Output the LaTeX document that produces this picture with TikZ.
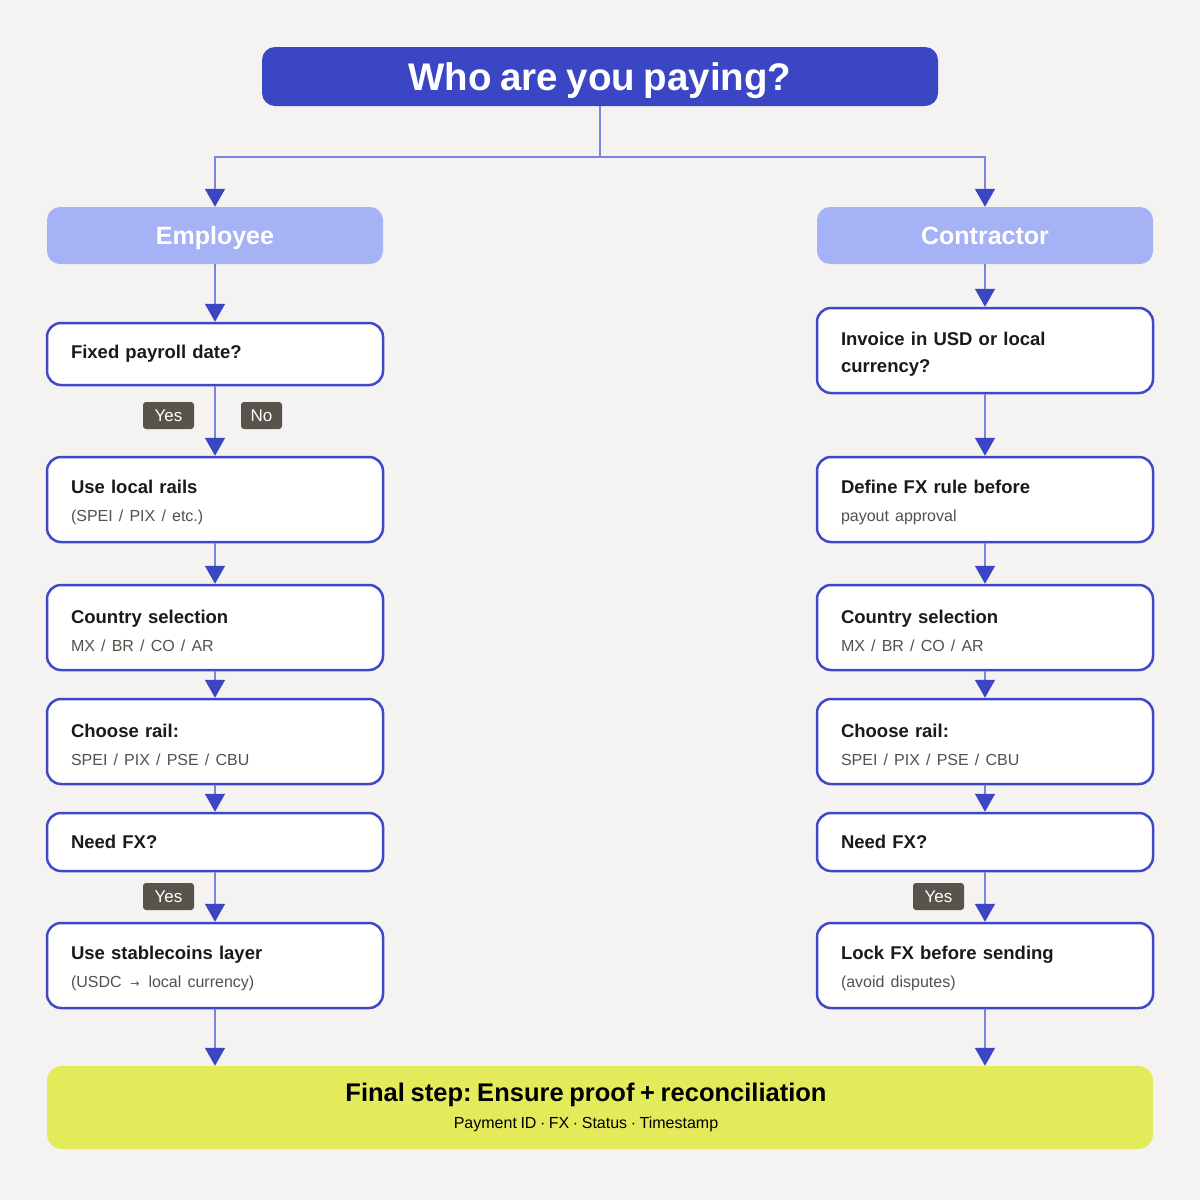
\documentclass[tikz,border=0pt]{standalone}
\usepackage{fontspec}
\setmainfont[WordSpace=0.8]{Liberation Sans}
\newfontfamily\arrowfont{DejaVu Sans}
\frenchspacing
\usetikzlibrary{arrows.meta}
\definecolor{bgc}{HTML}{F4F3F1}
\definecolor{titleblue}{HTML}{3B46C4}
\definecolor{lineblue}{HTML}{7D85DC}
\definecolor{borderblue}{HTML}{3E48C8}
\definecolor{lightblue}{HTML}{A6B2F6}
\definecolor{finalyellow}{HTML}{E3EB5A}
\definecolor{tagbrown}{HTML}{5A534C}
\definecolor{darktext}{HTML}{1A1A1A}
\definecolor{subgray}{HTML}{55504A}
\newcommand{\subtx}[1]{{\fontsize{16}{28}\selectfont\mdseries\color{subgray}#1}}
\newcommand{\topstrut}{\rule{0pt}{20pt}}
\tikzset{
  x=1pt, y=-1pt,
  stepbox/.style={draw=borderblue, line width=2.5pt, fill=white, rounded corners=14pt,
    text width=288pt, inner xsep=24pt, inner ysep=0pt, align=left, text=darktext,
    font=\fontsize{18.5}{28}\selectfont\bfseries},
  headbox/.style={fill=lightblue, rounded corners=13pt, minimum width=336pt, minimum height=57pt,
    inner sep=0pt, text=white, text height=18pt, text depth=0pt, font=\fontsize{25}{30}\selectfont\bfseries},
  tagbox/.style={fill=tagbrown, rounded corners=3pt, minimum width=51pt, minimum height=27pt,
    inner sep=0pt, text=white, text height=12pt, text depth=0pt, font=\fontsize{17}{20}\selectfont},
  conn/.style={draw=lineblue, line width=1.5pt},
  arr/.style={conn, -{Triangle[length=18pt,width=20pt,color=titleblue]}},
}
\begin{document}
\begin{tikzpicture}
\useasboundingbox[fill=bgc] (0,0) rectangle (1200,1200);

% title
\node[fill=titleblue, rounded corners=13pt, minimum width=676pt, minimum height=59pt, inner sep=0pt,
  text=white, text height=27.6pt, text depth=0pt, font=\fontsize{38.5}{44}\selectfont\bfseries] (title) at (600,76.5) {Who are you paying?};

% headers
\node[headbox] (emp) at (215,235.5) {Employee};
\node[headbox] (con) at (985,235.5) {Contractor};

% left column
\node[stepbox, minimum height=62pt] (e1) at (215,354) {Fixed payroll date?};
\node[stepbox, minimum height=85pt] (e2) at (215,499.5) {\topstrut Use local rails\\\subtx{(SPEI / PIX / etc.)}};
\node[stepbox, minimum height=85pt] (e3) at (215,627.5) {\topstrut Country selection\\\subtx{MX / BR / CO / AR}};
\node[stepbox, minimum height=85pt] (e4) at (215,741.5) {\topstrut Choose rail:\\\subtx{SPEI / PIX / PSE / CBU}};
\node[stepbox, minimum height=58pt] (e5) at (215,842) {Need FX?};
\node[stepbox, minimum height=85pt] (e6) at (215,965.5) {\topstrut Use stablecoins layer\\\subtx{(USDC \,{\arrowfont\fontsize{11}{11}\selectfont →}\, local currency)}};

% right column
\node[stepbox, minimum height=85pt] (c1) at (985,350.5) {\topstrut Invoice in USD or local\\[-1pt]currency?};
\node[stepbox, minimum height=85pt] (c2) at (985,499.5) {\topstrut Define FX rule before\\\subtx{payout approval}};
\node[stepbox, minimum height=85pt] (c3) at (985,627.5) {\topstrut Country selection\\\subtx{MX / BR / CO / AR}};
\node[stepbox, minimum height=85pt] (c4) at (985,741.5) {\topstrut Choose rail:\\\subtx{SPEI / PIX / PSE / CBU}};
\node[stepbox, minimum height=58pt] (c5) at (985,842) {Need FX?};
\node[stepbox, minimum height=85pt] (c6) at (985,965.5) {\topstrut Lock FX before sending\\\subtx{(avoid disputes)}};

% final
\node[fill=finalyellow, rounded corners=15pt, minimum width=1106pt, minimum height=83pt, inner sep=0pt,
  align=center, text=black] (fin) at (600,1107.5)
  {{\fontsize{25.5}{30}\selectfont\bfseries Final step: Ensure proof + reconciliation\hspace*{28pt}}\\[9pt]
   {\fontsize{16}{20}\selectfont Payment ID · FX · Status · Timestamp\hspace*{28pt}}};

% tags
\node[tagbox] (ty1) at (168.5,415.5) {Yes};
\node[tagbox, minimum width=41pt] (tn1) at (261.5,415.5) {No};
\node[tagbox] (ty2) at (168.5,896.5) {Yes};
\node[tagbox] (ty3) at (938.5,896.5) {Yes};

% connectors
\coordinate (j) at (600,157);
\draw[conn] (title.south) -- (j);
\draw[arr] (j) -| (emp.north);
\draw[arr] (j) -| (con.north);

\draw[arr] (emp.south) -- (e1.north);
\draw[arr] (e1.south) -- (e2.north);
\draw[arr] (e2.south) -- (e3.north);
\draw[arr] (e3.south) -- (e4.north);
\draw[arr] (e4.south) -- (e5.north);
\draw[arr] (e5.south) -- (e6.north);
\draw[arr] (e6.south) -- (e6.south |- fin.north);

\draw[arr] (con.south) -- (c1.north);
\draw[arr] (c1.south) -- (c2.north);
\draw[arr] (c2.south) -- (c3.north);
\draw[arr] (c3.south) -- (c4.north);
\draw[arr] (c4.south) -- (c5.north);
\draw[arr] (c5.south) -- (c6.north);
\draw[arr] (c6.south) -- (c6.south |- fin.north);
\end{tikzpicture}
\end{document}
